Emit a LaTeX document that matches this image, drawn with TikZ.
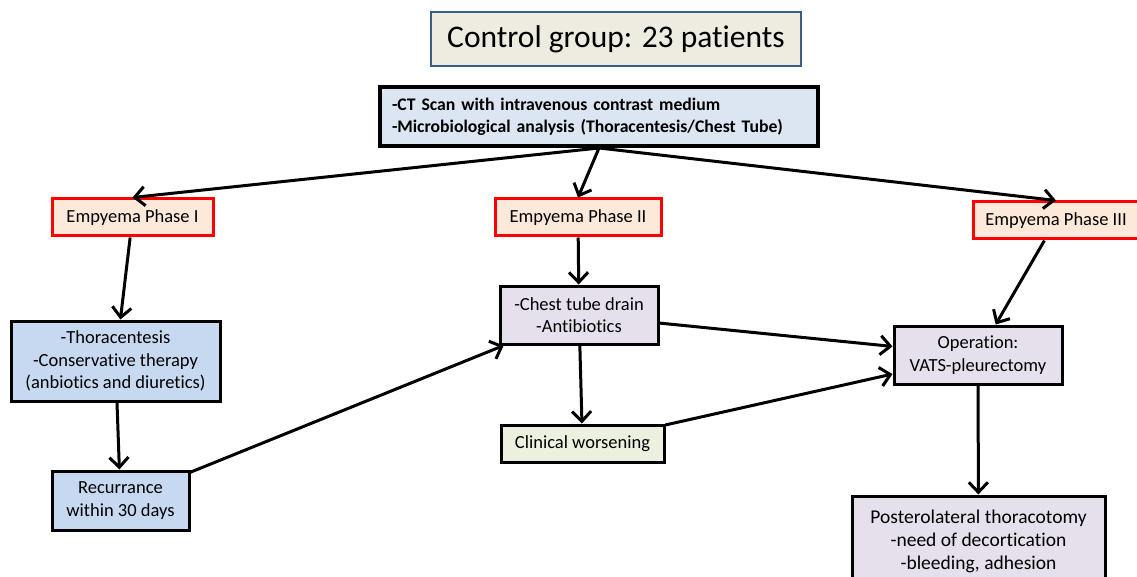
\documentclass[tikz,border=0pt]{standalone}
\usepackage{fontspec}
\setmainfont[Ligatures=CommonOff]{Carlito}
\usetikzlibrary{arrows.meta}

\definecolor{titlefill}{HTML}{EEECE1}
\definecolor{titleline}{HTML}{385D8A}
\definecolor{ctfill}{HTML}{DCE6F2}
\definecolor{phasefill}{HTML}{FDE9D9}
\definecolor{bluefill}{HTML}{C6D9F1}
\definecolor{lilacfill}{HTML}{E5E0EC}
\definecolor{greenfill}{HTML}{EBF1DE}

\begin{document}
\begin{tikzpicture}[x=1pt, y=-1pt, every node/.style={rectangle, inner sep=0pt, align=center, font=\fontsize{18.5}{22.5}\selectfont}]
	\tikzset{box/.style={draw=black, line width=3pt},
		phase/.style={draw=red, fill=phasefill, line width=3pt, minimum height=37pt},
		arr/.style={line width=3pt, -{Straight Barb[length=10pt,width=19pt]}}}
	\useasboundingbox (0,0) rectangle (1137,577);
	\node[draw=titleline, fill=titlefill, line width=1.5pt, minimum width=370pt, minimum height=54pt, font=\fontsize{31.5}{36}\selectfont] (title) at (616,39) {Control group: 23 patients};
	\node[box, line width=4pt, fill=ctfill, text width=414pt, inner xsep=12pt, minimum height=59pt, align=left, font=\bfseries\fontsize{17.7}{22}\selectfont] (ct) at (599,116.5) {-CT Scan with intravenous contrast medium\\-Microbiological analysis (Thoracentesis/Chest Tube)};
	\node[phase, minimum width=161pt] (ph1) at (132.5,217.5) {Empyema Phase I};
	\node[phase, minimum width=166pt] (ph2) at (578,217.5)   {Empyema Phase II};
	\node[phase, minimum width=166pt] (ph3) at (1056,220.5)  {Empyema Phase III};
	\node[box, fill=bluefill, minimum width=209pt, minimum height=80pt] (thor) at (115.5,361) {-Thoracentesis\\-Conservative therapy\\(anbiotics and diuretics)};
	\node[box, fill=bluefill, minimum width=137pt, minimum height=59pt] (rec) at (120.5,500.5) {Recurrance\\within 30 days};
	\node[box, fill=lilacfill, minimum width=158pt, minimum height=58pt] (drain) at (579,315) {-Chest tube drain\\-Antibiotics};
	\node[box, fill=greenfill, minimum width=163pt, minimum height=37pt] (worse) at (582.5,443.5) {Clinical worsening};
	\node[box, fill=lilacfill, minimum width=168pt, minimum height=58pt] (op) at (978,355) {Operation:\\VATS-pleurectomy};
	\node[box, fill=lilacfill, minimum width=253pt, minimum height=90pt, font=\fontsize{19.5}{23}\selectfont] (post) at (978.5,541) {Posterolateral thoracotomy\\-need of decortication\\-bleeding, adhesion};
	\foreach \from/\to in {ct.south/ph1.north, ct.south/ph2.north, ct.south/ph3.north,
		ph1/thor, thor/rec, rec/drain, ph2/drain, drain/worse,
		drain/op, worse/op, ph3/op, op/post}
	\draw[arr] (\from) -- (\to);
\end{tikzpicture}
\end{document}
